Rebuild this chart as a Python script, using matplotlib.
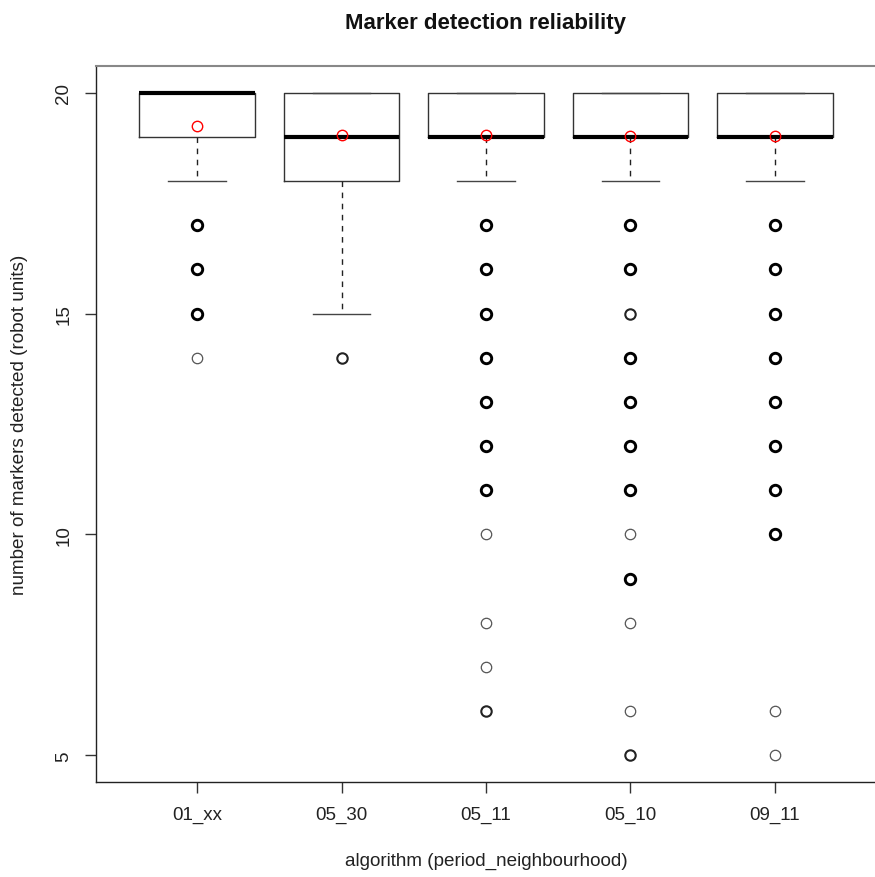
import numpy as np
import matplotlib
matplotlib.use("Agg")
import matplotlib.pyplot as plt

plt.rcParams['font.family'] = ['Liberation Sans', 'DejaVu Sans']

# box statistics per algorithm
labels = ['01_xx', '05_30', '05_11', '05_10', '09_11']
q1 = [19, 18, 19, 19, 19]
med = [20, 19, 19, 19, 19]
q3 = [20, 20, 20, 20, 20]
whislo = [18, 15, 18, 18, 18]
whishi = [20, 20, 20, 20, 20]
means = [19.25, 19.05, 19.05, 19.02, 19.02]

# outliers: values and how many runs landed on each (overlap makes them bold)
out_vals = [
    [17, 16, 15, 14],
    [14],
    [17, 16, 15, 14, 13, 12, 11, 10, 8, 7, 6],
    [17, 16, 15, 14, 13, 12, 11, 10, 9, 8, 6, 5],
    [17, 16, 15, 14, 13, 12, 11, 10, 6, 5],
]
out_counts = [
    [3, 3, 3, 1],
    [2],
    [3, 3, 3, 3, 3, 3, 3, 1, 1, 1, 2],
    [3, 3, 2, 3, 3, 3, 3, 1, 3, 1, 1, 2],
    [3, 3, 3, 3, 3, 3, 3, 3, 1, 1],
]

W, H = 875, 878
fig = plt.figure(figsize=(W / 100, H / 100), dpi=100)
ax = fig.add_axes([96 / W, (H - 783) / H, 780 / W, (783 - 67) / H])

stats = []
for i in range(len(labels)):
    stats.append(dict(label=labels[i], q1=q1[i], med=med[i], q3=q3[i],
                      whislo=whislo[i], whishi=whishi[i], mean=means[i], fliers=[]))

pos = np.arange(1, len(labels) + 1)
ax.bxp(stats, positions=pos, widths=0.8, capwidths=0.4,
       showfliers=False, showmeans=True,
       boxprops=dict(color='#333333', lw=1.0),
       medianprops=dict(color='black', lw=3.0, solid_capstyle='butt'),
       whiskerprops=dict(color='#222222', lw=1.0, linestyle=(0, (4, 4))),
       capprops=dict(color='#444444', lw=1.0),
       meanprops=dict(marker='o', markerfacecolor='none', markeredgecolor='red',
                      markersize=7.5, markeredgewidth=1.0))

# outliers
lw_by_count = {1: 0.9, 2: 1.5, 3: 2.1}
col_by_count = {1: '#555555', 2: '#222222', 3: 'black'}
for i, (vals, cnts) in enumerate(zip(out_vals, out_counts)):
    for v, c in zip(vals, cnts):
        ax.plot(pos[i], v, linestyle='none', marker='o', markerfacecolor='none',
                markeredgecolor=col_by_count[c], markeredgewidth=lw_by_count[c],
                markersize=7.5)

ax.set_xlim(0.3, 5.7)
ax.set_ylim(4.4, 20.6)
ax.set_yticks([5, 10, 15, 20])
ax.set_xticks(pos)
ax.set_xticklabels(labels)
ax.tick_params(axis='both', length=8, width=1, color='#333333', labelsize=13.5,
               labelcolor='#222222')
ax.tick_params(axis='x', pad=9)
ax.tick_params(axis='y', pad=9)
for t in ax.get_yticklabels():
    t.set_rotation(90)
    t.set_va('center')

for s in ['left', 'bottom']:
    ax.spines[s].set_color('#222222')
    ax.spines[s].set_linewidth(1.0)
ax.spines['top'].set_color('#888888')
ax.spines['top'].set_linewidth(1.5)
ax.spines['right'].set_color('#888888')

ax.set_xlabel('algorithm (period_neighbourhood)', fontsize=13.6, color='#222222', va='center')
ax.xaxis.set_label_coords(0.5, (783 - 861) / (783 - 67))
ax.set_ylabel('number of markers detected (robot units)', fontsize=13.6, color='#222222',
              va='center')
ax.yaxis.set_label_coords((20 - 96) / 780, 0.5)
fig.text(486 / W, 1 - 23 / H, 'Marker detection reliability', ha='center', va='center',
         fontsize=16, fontweight='bold', color='#111111')

fig.savefig('out.png', dpi=100)
